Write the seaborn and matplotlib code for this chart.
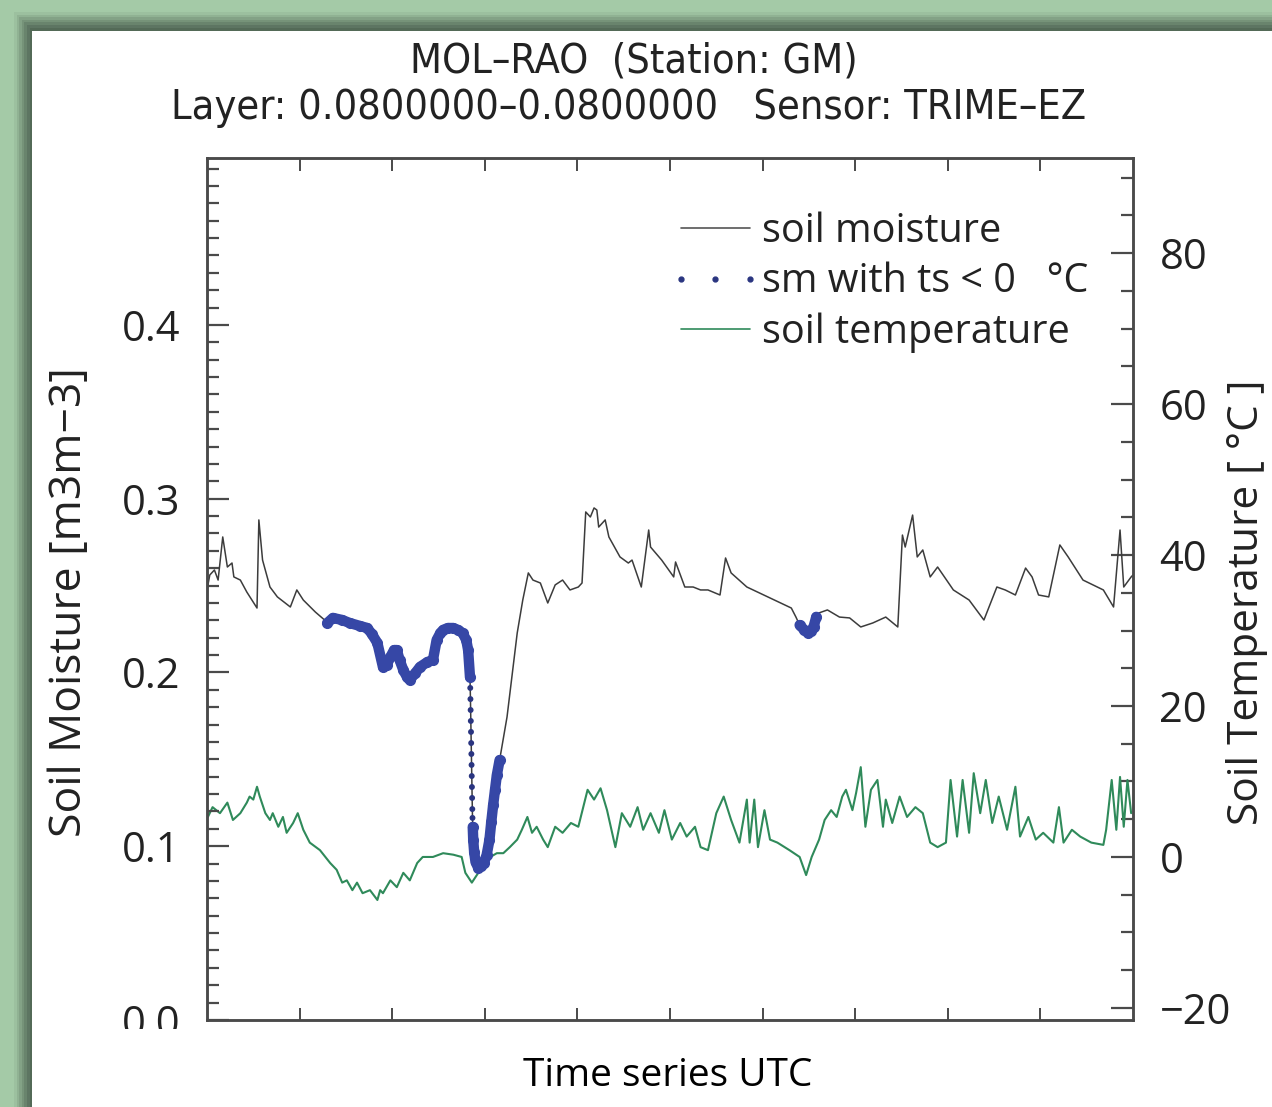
import matplotlib
matplotlib.use("Agg")
import matplotlib.pyplot as plt
from matplotlib import font_manager
from matplotlib.lines import Line2D
from matplotlib.patches import Rectangle
from matplotlib.ticker import MultipleLocator, FixedLocator, NullFormatter, FormatStrFormatter
import seaborn as sns

# time axis in days (10 day window, no labels on the axis)
pre_time = [0.00, 0.03, 0.08, 0.12, 0.17, 0.22, 0.27, 0.29, 0.36, 0.43,
            0.54, 0.56, 0.60, 0.68, 0.76, 0.90, 0.97, 1.04, 1.17, 1.27]
pre_sm = [0.2475, 0.2561, 0.2590, 0.2532, 0.2780, 0.2607, 0.2630, 0.2550, 0.2532, 0.2463,
          0.2371, 0.2878, 0.2647, 0.2492, 0.2435, 0.2377, 0.2475, 0.2417, 0.2348, 0.2302]

# soil moisture while soil temperature < 0 C
frozen_a_time = [1.30, 1.36, 1.46, 1.54, 1.65, 1.73, 1.78, 1.84, 1.90, 1.94,
                 1.98, 2.02, 2.05, 2.08, 2.12, 2.16, 2.19, 2.25, 2.30, 2.38,
                 2.44, 2.48, 2.52, 2.55, 2.60, 2.66, 2.71, 2.76, 2.80, 2.82, 2.84]
frozen_a_sm = [0.2285, 0.2314, 0.2302, 0.2285, 0.2268, 0.2256, 0.2222, 0.2170, 0.2032, 0.2043,
               0.2089, 0.2129, 0.2129, 0.2072, 0.2014, 0.1974, 0.1957, 0.1997, 0.2032, 0.2060,
               0.2072, 0.2187, 0.2227, 0.2245, 0.2256, 0.2256, 0.2245, 0.2227, 0.2187, 0.2129, 0.1974]
drop_time = [2.843, 2.845, 2.847, 2.849, 2.851, 2.853, 2.855, 2.857, 2.859, 2.861, 2.863, 2.865, 2.867]
drop_sm = [0.1911, 0.1847, 0.1784, 0.1721, 0.1658, 0.1594, 0.1531, 0.1468, 0.1404, 0.1341,
           0.1278, 0.1214, 0.1163]
frozen_b_time = [2.870, 2.875, 2.885, 2.90, 2.93, 2.96, 2.99, 3.02, 3.05, 3.07, 3.09, 3.11, 3.13, 3.16]
frozen_b_sm = [0.1111, 0.1036, 0.0967, 0.0909, 0.0875, 0.0886, 0.0904, 0.0950, 0.1036, 0.1140,
               0.1237, 0.1324, 0.1410, 0.1496]

mid_time = [3.24, 3.35, 3.41, 3.47, 3.52, 3.60, 3.68, 3.76, 3.84, 3.92,
            4.01, 4.05, 4.09, 4.14, 4.18, 4.21, 4.23, 4.30, 4.34, 4.46,
            4.55, 4.59, 4.69, 4.77, 4.79, 4.91, 5.04, 5.06, 5.16, 5.25,
            5.33, 5.41, 5.54, 5.60, 5.66, 5.83, 6.08, 6.31, 6.36]
mid_sm = [0.1744, 0.2227, 0.2417, 0.2573, 0.2532, 0.2515, 0.2400, 0.2504, 0.2532, 0.2475,
          0.2492, 0.2515, 0.2924, 0.2895, 0.2947, 0.2935, 0.2837, 0.2878, 0.2780, 0.2665,
          0.2630, 0.2647, 0.2492, 0.2820, 0.2722, 0.2647, 0.2550, 0.2636, 0.2492, 0.2492,
          0.2475, 0.2475, 0.2446, 0.2659, 0.2573, 0.2492, 0.2429, 0.2371, 0.2319]

frozen_c_time = [6.40, 6.45, 6.49, 6.52, 6.55, 6.58]
frozen_c_sm = [0.2273, 0.2245, 0.2227, 0.2239, 0.2262, 0.2320]

post_time = [6.61, 6.70, 6.83, 6.94, 7.06, 7.19, 7.33, 7.46, 7.51, 7.54,
             7.62, 7.67, 7.73, 7.81, 7.89, 8.06, 8.23, 8.39, 8.53, 8.62,
             8.73, 8.84, 8.91, 8.98, 9.09, 9.21, 9.30, 9.46, 9.68, 9.79,
             9.86, 9.90, 9.98, 10.0]
post_sm = [0.2343, 0.2360, 0.2319, 0.2314, 0.2262, 0.2285, 0.2319, 0.2262, 0.2791, 0.2722,
           0.2906, 0.2665, 0.2705, 0.2550, 0.2607, 0.2475, 0.2417, 0.2302, 0.2492, 0.2475,
           0.2446, 0.2601, 0.2550, 0.2446, 0.2435, 0.2734, 0.2665, 0.2532, 0.2475, 0.2377,
           0.2820, 0.2492, 0.2550, 0.2561]

ts_time = [0.01, 0.06, 0.14, 0.22, 0.28, 0.36, 0.43, 0.46, 0.50, 0.54,
           0.57, 0.63, 0.68, 0.71, 0.77, 0.82, 0.86, 0.93, 0.98, 1.04,
           1.11, 1.22, 1.33, 1.40, 1.46, 1.51, 1.57, 1.62, 1.68, 1.76,
           1.84, 1.87, 1.90, 1.98, 2.05, 2.12, 2.19, 2.27, 2.33, 2.44,
           2.55, 2.66, 2.75, 2.79, 2.86, 2.93, 2.98, 3.06, 3.13, 3.20,
           3.27, 3.35, 3.40, 3.46, 3.51, 3.56, 3.63, 3.68, 3.76, 3.84,
           3.93, 4.01, 4.11, 4.18, 4.25, 4.32, 4.41, 4.48, 4.57, 4.65,
           4.71, 4.79, 4.88, 4.94, 5.02, 5.11, 5.18, 5.27, 5.33, 5.41,
           5.50, 5.58, 5.66, 5.75, 5.83, 5.86, 5.91, 5.95, 6.02, 6.08,
           6.16, 6.29, 6.40, 6.47, 6.53, 6.61, 6.67, 6.74, 6.80, 6.86,
           6.90, 6.97, 7.01, 7.06, 7.11, 7.17, 7.24, 7.30, 7.33, 7.40,
           7.48, 7.56, 7.65, 7.73, 7.81, 7.89, 7.98, 8.03, 8.10, 8.16,
           8.23, 8.28, 8.35, 8.41, 8.48, 8.55, 8.64, 8.73, 8.78, 8.87,
           8.95, 9.03, 9.14, 9.20, 9.25, 9.34, 9.43, 9.55, 9.68, 9.71,
           9.77, 9.82, 9.86, 9.90, 9.94, 9.98]
ts_value = [5.3, 6.6, 5.8, 7.2, 4.9, 5.8, 7.2, 8.0, 7.6, 9.3,
            8.0, 5.8, 4.9, 5.8, 4.0, 5.3, 3.2, 4.5, 5.8, 3.6,
            1.9, 0.9, -0.8, -1.7, -3.4, -3.1, -4.4, -3.4, -4.8, -4.4,
            -5.7, -4.4, -4.8, -3.1, -4.0, -2.1, -3.1, -0.8, 0.0, 0.0,
            0.5, 0.3, 0.0, -2.1, -3.4, -2.1, -1.3, 0.0, 0.5, 0.5,
            1.3, 2.3, 3.6, 5.3, 3.2, 4.0, 2.3, 1.3, 4.0, 3.2,
            4.5, 4.0, 8.9, 7.6, 9.1, 6.2, 1.3, 5.8, 4.0, 6.6,
            3.6, 5.8, 3.2, 6.2, 2.3, 4.5, 2.7, 4.0, 1.3, 0.9,
            5.8, 8.0, 4.9, 1.9, 7.6, 1.9, 7.6, 1.3, 6.2, 2.3,
            1.9, 0.9, 0.0, -2.4, 0.0, 2.3, 4.9, 6.2, 5.3, 8.0,
            8.9, 6.2, 8.5, 11.9, 4.0, 8.9, 10.2, 4.0, 7.6, 4.5,
            8.0, 5.3, 6.6, 5.8, 1.9, 1.3, 1.9, 10.2, 2.7, 10.2,
            3.2, 11.1, 5.8, 10.2, 4.5, 8.0, 3.6, 9.3, 2.7, 5.3,
            2.3, 3.2, 1.9, 6.6, 1.9, 3.6, 2.7, 1.9, 1.6, 3.6,
            10.2, 3.6, 10.6, 4.0, 10.2, 5.8]

sm_time = pre_time + frozen_a_time + drop_time + frozen_b_time + mid_time + frozen_c_time + post_time
sm_value = pre_sm + frozen_a_sm + drop_sm + frozen_b_sm + mid_sm + frozen_c_sm + post_sm

legend_labels = ["soil moisture", "sm with ts < 0   \u00b0C", "soil temperature"]

SM_COLOR = "#3c3c3c"
FROZEN_COLOR = "#3647a6"
TS_COLOR = "#2f8a5a"
AX_COLOR = "#4a4a4a"
TXT = "#222222"

sns.set_theme(style="white")
plt.rcParams["font.family"] = ["Open Sans", "DejaVu Sans"]

names = {f.name for f in font_manager.fontManager.ttflist}
if "Liberation Sans Narrow" in names:
    title_kw = dict(family=["Liberation Sans Narrow", "DejaVu Sans"], fontsize=35)
else:
    title_kw = dict(family=["DejaVu Sans"], fontstretch="condensed", fontsize=29.7)

W, H = 1272, 1107
fig = plt.figure(figsize=(W / 100, H / 100), dpi=100, facecolor="#a4caa7")

# green frame with a drop shadow around the white panel
shades = ["#9cc09f", "#90b293", "#83a286", "#769379", "#69846d", "#5d7562", "#536a57"]
for k, c in enumerate(shades):
    x0 = (14 + 2.6 * k) / W
    y1 = 1 - (12 + 2.6 * k) / H
    fig.patches.append(Rectangle((x0, 0), 1 - x0, y1, transform=fig.transFigure,
                                 facecolor=c, edgecolor="none", zorder=-5))
fig.patches.append(Rectangle((32 / W, 0), 1, 1 - 31 / H, transform=fig.transFigure,
                             facecolor="white", edgecolor="none", zorder=-4))

ax = fig.add_axes([207 / W, 1 - 1020 / H, 926 / W, 862 / H])
ax2 = ax.twinx()
ax.set_zorder(ax2.get_zorder() + 1)
ax.patch.set_visible(False)

sns.lineplot(x=ts_time, y=ts_value, ax=ax2, color=TS_COLOR, lw=1.5,
             estimator=None, sort=False)
sns.lineplot(x=sm_time, y=sm_value, ax=ax, color=SM_COLOR, lw=1.1,
             estimator=None, sort=False)
for ft, fv in [(frozen_a_time, frozen_a_sm), (frozen_b_time, frozen_b_sm),
               (frozen_c_time, frozen_c_sm)]:
    ax.plot(ft, fv, color=FROZEN_COLOR, lw=7.5, marker="o", ms=7,
            solid_capstyle="round", solid_joinstyle="round")
sns.scatterplot(x=drop_time, y=drop_sm, ax=ax, color="#2a3580", s=18,
                edgecolor="none", zorder=5)

ax.set_xlim(0, 10)
ax.set_ylim(0, 0.4961)
ax2.set_ylim(-21.6, 92.6)

ax.xaxis.set_major_locator(FixedLocator(range(1, 10)))
ax.xaxis.set_major_formatter(NullFormatter())
ax.yaxis.set_major_locator(MultipleLocator(0.1))
ax.yaxis.set_minor_locator(MultipleLocator(0.01))
ax.yaxis.set_major_formatter(FormatStrFormatter("%.1f"))
ax2.yaxis.set_major_locator(MultipleLocator(20))
ax2.yaxis.set_minor_locator(MultipleLocator(5))

ax.tick_params(axis="x", which="major", direction="in", top=True, bottom=True,
               length=9, width=1.4, color=AX_COLOR)
ax.tick_params(axis="y", which="major", direction="in", left=True, right=False,
               length=16, width=1.6, color=AX_COLOR, labelsize=30, labelcolor=TXT, pad=19)
ax.tick_params(axis="y", which="minor", direction="in", left=True, right=False,
               length=8.5, width=1.6, color=AX_COLOR)
ax2.tick_params(axis="y", which="major", direction="in", right=True, left=False,
                length=16, width=1.6, color=AX_COLOR, labelsize=30, labelcolor=TXT, pad=19)
ax2.tick_params(axis="y", which="minor", direction="in", right=True, left=False,
                length=8.5, width=1.6, color=AX_COLOR)

for a in (ax, ax2):
    for s in a.spines.values():
        s.set_color(AX_COLOR)
        s.set_linewidth(1.8)

# the 0.0 label is cut off at the bottom in the original
for tick in ax.yaxis.get_major_ticks():
    clip = Rectangle((0, 1 - 1029 / H), 1, 1, transform=fig.transFigure)
    tick.label1.set_clip_path(clip)

ax.set_ylabel("Soil Moisture [m3m\u22123]", fontsize=32, color=TXT)
ax.yaxis.set_label_coords(-0.124, 0.485)
ax2.set_ylabel("Soil Temperature [ \u00b0C ]", fontsize=30.5, color=TXT)
ax2.yaxis.set_label_coords(1.100, 0.485)
ax.set_xlabel("Time series UTC", fontsize=28, color="black")
ax.xaxis.set_label_coords(0.498, -0.043)

fig.text(0.498, 1 - 62 / H, "MOL\u2013RAO  (Station: GM)", ha="center", va="center",
         color=TXT, **title_kw)
fig.text(0.494, 1 - 108 / H, "Layer: 0.0800000\u20130.0800000   Sensor: TRIME\u2013EZ",
         ha="center", va="center", color=TXT, **title_kw)

handles = [Line2D([], [], color="#555555", lw=1.2),
           Line2D([], [], ls="none", marker="o", ms=3.5, color="#2a3580"),
           Line2D([], [], color=TS_COLOR, lw=1.2)]
leg = ax.legend(handles, legend_labels, loc="upper left", bbox_to_anchor=(0.49, 0.947),
                frameon=False, fontsize=28.5, handlelength=2.35, handletextpad=0.02,
                labelspacing=0.25, numpoints=3, borderpad=0.2, borderaxespad=0)
for t in leg.get_texts():
    t.set_color(TXT)

fig.savefig("out.png", dpi=100, facecolor=fig.get_facecolor())
